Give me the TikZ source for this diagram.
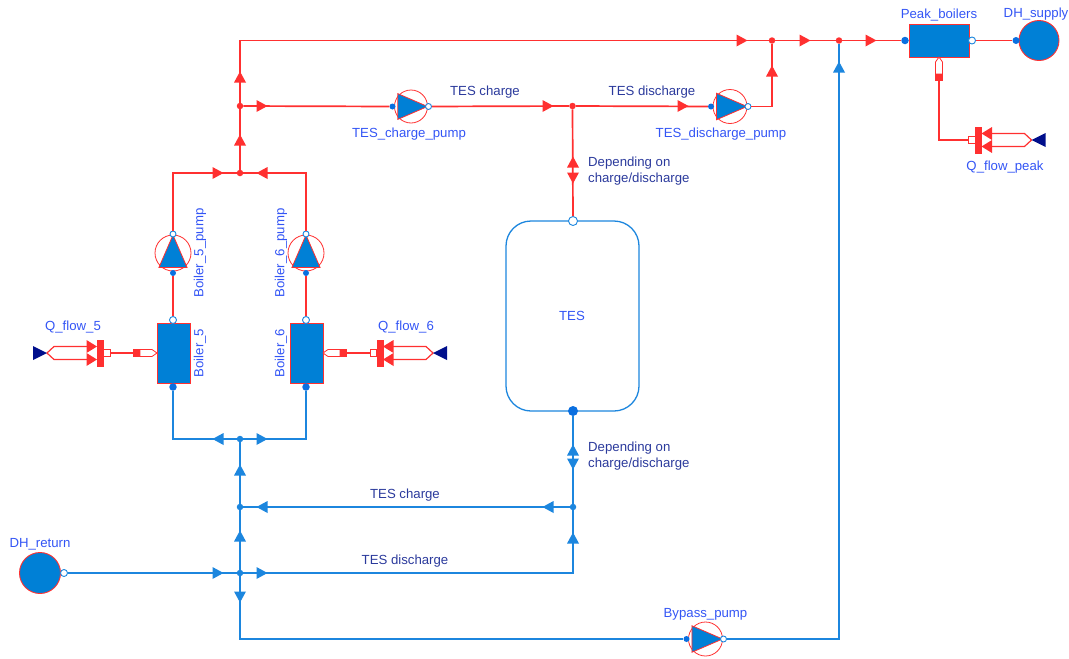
\documentclass[tikz,border=0pt]{standalone}
\usepackage{fontspec}
\setmainfont{Liberation Sans}
\usetikzlibrary{calc}
\definecolor{hred}{HTML}{FF3030}
\definecolor{cblue}{HTML}{1C86DE}
\definecolor{cfill}{HTML}{0080D6}
\definecolor{portb}{HTML}{0A6FE0}
\definecolor{lab}{HTML}{3355F5}
\definecolor{note}{HTML}{2B3A9C}
\definecolor{navy}{HTML}{000F8C}
\tikzset{
  x=1pt,y=-1pt,
  hot/.style={draw=hred,line width=1.7pt,line join=miter},
  cold/.style={draw=cblue,line width=1.7pt,line join=miter},
  junchot/.style={circle,fill=hred,inner sep=0pt,minimum size=6.5pt},
  junccold/.style={circle,fill=cblue,inner sep=0pt,minimum size=6.5pt},
  portopen/.style={circle,draw=cblue,fill=white,line width=.9pt,inner sep=0pt,minimum size=#1},
  portfull/.style={circle,fill=portb,inner sep=0pt,minimum size=#1},
  unit/.style={rectangle,draw=hred,fill=cfill,line width=.9pt,inner sep=0pt},
  bound/.style={circle,draw=hred,fill=cfill,line width=.9pt,inner sep=0pt,minimum size=#1},
  lbl/.style={text=lab,font=\fontsize{13.2}{15}\selectfont,inner sep=0pt},
  nte/.style={text=note,font=\fontsize{13.2}{16}\selectfont,inner sep=0pt},
}
% flow arrow: centre x,y, screen angle, colour
\newcommand{\flowmark}[4]{\fill[#4,shift={(#1,#2)},rotate=#3] (-5.5,-6) -- (5.5,0) -- (-5.5,6) -- cycle;}
% pump: name, x, y, angle, radius
\newcommand{\pumpunit}[5]{%
  \begin{scope}[shift={(#2,#3)},rotate=#4]
    \node[circle,draw=hred,fill=white,line width=.8pt,inner sep=0pt,minimum size=#5*2pt] (#1) at (0,0) {};
    \filldraw[fill=cfill,draw=hred,line width=.8pt,line join=miter] (-#5*.8,-#5*.78) -- (#5,0) -- (-#5*.8,#5*.78) -- cycle;
    \node[portfull=6pt] (#1-in) at (-#5-2,0) {};
    \node[portopen=6pt] (#1-out) at (#5+1,0) {};
  \end{scope}}
% heat tip into a unit: name, tip x, y, angle (direction from tip to the source)
\newcommand{\heattip}[4]{%
  \begin{scope}[shift={(#2,#3)},rotate=#4]
    \filldraw[fill=white,draw=hred,line width=.8pt] (0,0) -- (5,-3.5) -- (17,-3.5) -- (17,3.5) -- (5,3.5) -- cycle;
    \node[fill=hred,inner sep=0pt,minimum size=7.5pt] (#1) at (20.5,0) {};
  \end{scope}}
% heat source: name, x of small box start, y, angle (direction away from the unit)
\newcommand{\heatsource}[4]{%
  \begin{scope}[shift={(#2,#3)},rotate=#4]
    \node[draw=hred,fill=white,line width=.8pt,inner sep=0pt,minimum width=6.5pt,minimum height=7pt] (#1) at (3.2,0) {};
    \fill[hred] (6.5,-13.5) rectangle (13.5,13.5);
    \fill[hred] (13,-6.5) -- (23.5,-13) -- (23.5,0) -- cycle;
    \fill[hred] (13,6.5) -- (23.5,0) -- (23.5,13) -- cycle;
    \draw[hred,line width=1.2pt] (23,-6.5) -- (56,-6.5) -- (63,0) -- (56,6.5) -- (23,6.5);
    \fill[navy] (63,0) -- (77,-7) -- (77,7) -- cycle;
  \end{scope}}
\begin{document}
\begin{tikzpicture}
\useasboundingbox (0,0) rectangle (1069,659);
% units
\node[unit,minimum width=33pt,minimum height=60pt] (b5) at (173.5,353) {};
\node[unit,minimum width=33pt,minimum height=60pt] (b6) at (306.5,353) {};
\node[unit,minimum width=60pt,minimum height=33pt] (peak) at (939,40.5) {};
\node[rectangle,rounded corners=25pt,draw=cblue,fill=white,line width=1.3pt,minimum width=133pt,minimum height=190pt,inner sep=0pt] (tes) at (572.5,316) {};
\node[bound=41pt] (ret) at (40,573) {};
\node[bound=40pt] (sup) at (1039,40.5) {};
% ports
\node[portopen=7pt] (b5top) at (173,320) {};
\node[portfull=7.5pt] (b5bot) at (173,387) {};
\node[portopen=7pt] (b6top) at (306,320) {};
\node[portfull=7.5pt] (b6bot) at (306,387) {};
\node[portfull=7.5pt] (pkin) at (905,40.5) {};
\node[portopen=7pt] (pkout) at (972,40.5) {};
\node[portfull=7pt] (supin) at (1016,40.5) {};
\node[portopen=7pt] (retout) at (64,573) {};
\node[portopen=9pt] (testop) at (573,221) {};
\node[portfull=10pt] (tesbot) at (573,411) {};
% pumps
\pumpunit{cp}{411}{106.5}{0}{16.5}
\pumpunit{dp}{730}{106.5}{0}{17}
\pumpunit{bp}{705.5}{639}{0}{17}
\pumpunit{p5}{173}{253}{90}{18}
\pumpunit{p6}{306}{253}{90}{18}
% junctions
\node[junchot] (j1) at (240,173) {};
\node[junchot] (j2) at (240,106) {};
\node[junchot] (j3) at (572.5,106) {};
\node[junchot] (j4) at (772,40.5) {};
\node[junchot] (j5) at (839,40.5) {};
\node[junccold] (k1) at (240,439) {};
\node[junccold] (k2) at (240,507) {};
\node[junccold] (k3) at (240,573) {};
\node[junccold] (k4) at (573,507) {};
% hot connectors
\draw[hot] (j1) -- (j2);
\draw[hot] (j2) -- (240,40.5) -- (j4);
\draw[hot] (j4) -- (j5);
\draw[hot] (j5) -- (pkin);
\draw[hot] (pkout) -- (supin);
\draw[hot] (j2) -- (cp-in);
\draw[hot] (cp-out) -- (j3);
\draw[hot] (j3) -- (dp-in);
\draw[hot] (dp-out) -| (j4);
\draw[hot] (j3) -- (testop);
\draw[hot] (p5-out) |- (j1);
\draw[hot] (p6-out) |- (j1);
\draw[hot] (b5top) -- (p5-in);
\draw[hot] (b6top) -- (p6-in);
% cold connectors
\draw[cold] (b5bot) |- (k1);
\draw[cold] (b6bot) |- (k1);
\draw[cold] (k1) -- (k2);
\draw[cold] (k2) -- (k3);
\draw[cold] (k2) -- (k4);
\draw[cold] (retout) -- (k3);
\draw[cold] (k3) -| (k4);
\draw[cold] (k4) -- (tesbot);
\draw[cold] (k3) |- (bp-in);
\draw[cold] (bp-out) -| (j5);
% heat ports
\heattip{h5t}{157}{353}{180}
\heatsource{h5s}{110}{353}{180}
\heattip{h6t}{323}{353}{0}
\heatsource{h6s}{370}{353}{0}
\heattip{hpt}{939}{57}{-90}
\heatsource{hps}{968.5}{140}{0}
\draw[draw=hred,line width=1.2pt] (h5t) -- (h5s);
\draw[draw=hred,line width=1.2pt] (h6t) -- (h6s);
\draw[draw=hred,line width=1.2pt] (hpt) |- (hps);
% flow marks
\flowmark{742}{40.5}{0}{hred}
\flowmark{805}{40.5}{0}{hred}
\flowmark{871}{40.5}{0}{hred}
\flowmark{240}{77}{90}{hred}
\flowmark{240}{140}{90}{hred}
\flowmark{262}{106}{0}{hred}
\flowmark{548}{106}{0}{hred}
\flowmark{683}{106}{0}{hred}
\flowmark{772}{71}{90}{hred}
\flowmark{218}{173}{0}{hred}
\flowmark{262}{173}{180}{hred}
\flowmark{573}{162}{90}{hred}
\flowmark{573}{178}{-90}{hred}
\flowmark{218}{439}{180}{cblue}
\flowmark{262}{439}{0}{cblue}
\flowmark{240}{470}{90}{cblue}
\flowmark{240}{536}{90}{cblue}
\flowmark{240}{597}{-90}{cblue}
\flowmark{218}{573}{0}{cblue}
\flowmark{262}{573}{0}{cblue}
\flowmark{262}{507}{180}{cblue}
\flowmark{548}{507}{180}{cblue}
\flowmark{573}{538}{90}{cblue}
\flowmark{573}{450}{90}{cblue}
\flowmark{573}{464}{-90}{cblue}
\flowmark{839}{67}{90}{cblue}
% labels
\node[lbl] (t1) at (73,327) {Q\_flow\_5};
\node[lbl] (t2) at (406,327) {Q\_flow\_6};
\node[lbl] (t3) at (409,134) {TES\_charge\_pump};
\node[lbl] (t4) at (721,134) {TES\_discharge\_pump};
\node[lbl] (t5) at (939,15) {Peak\_boilers};
\node[lbl,anchor=east] (t6) at (1068.5,14) {DH\_supply};
\node[lbl] (t7) at (40,544) {DH\_return};
\node[lbl] (t8) at (1005,167) {Q\_flow\_peak};
\node[lbl] (t9) at (705.5,614) {Bypass\_pump};
\node[lbl] (t10) at (572,315.5) {TES};
\node[lbl,rotate=90] (t11) at (200,253) {Boiler\_5\_pump};
\node[lbl,rotate=90] (t12) at (200,353) {Boiler\_5};
\node[lbl,rotate=90] (t13) at (281,253) {Boiler\_6\_pump};
\node[lbl,rotate=90] (t14) at (281,353) {Boiler\_6};
\node[nte] (n1) at (485,92) {TES charge};
\node[nte] (n2) at (652,92) {TES discharge};
\node[nte] (n3) at (405,495) {TES charge};
\node[nte] (n4) at (405,561) {TES discharge};
\node[nte,align=left,anchor=west] (n5) at (588,171) {Depending on\\charge/discharge};
\node[nte,align=left,anchor=west] (n6) at (588,456) {Depending on\\charge/discharge};
\end{tikzpicture}
\end{document}
